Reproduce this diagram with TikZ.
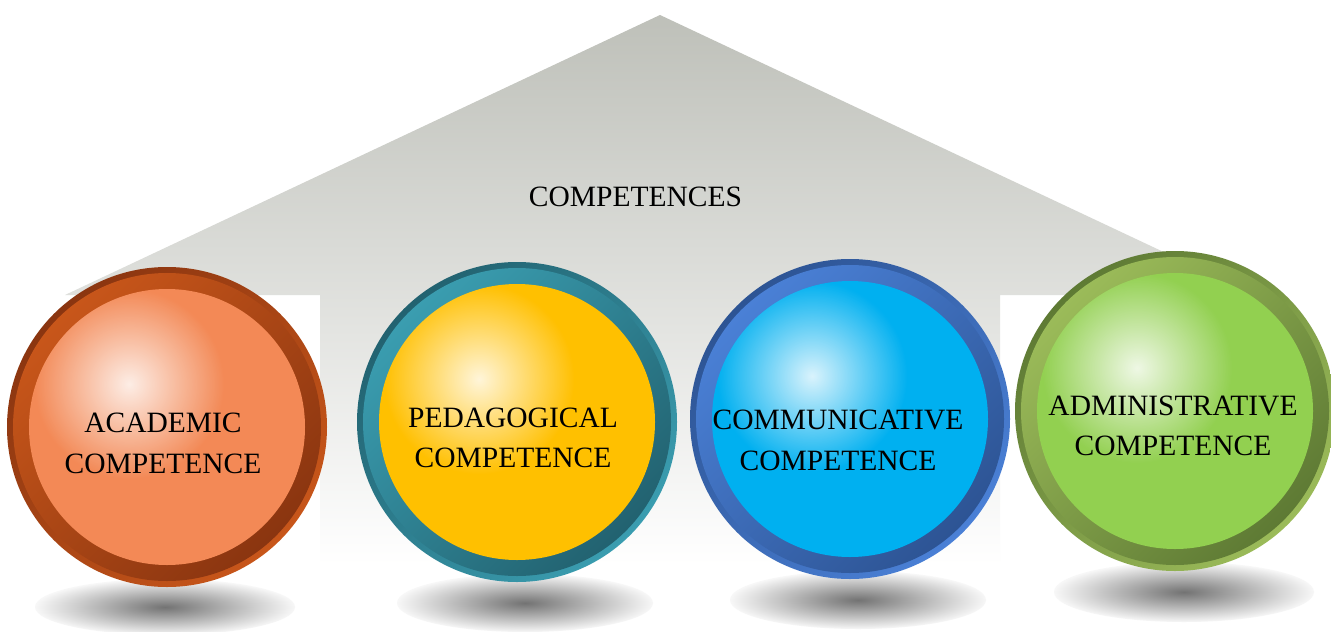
\documentclass[tikz,border=0pt]{standalone}
\usepackage{fontspec}
\setmainfont{Liberation Serif}
\usetikzlibrary{fadings}
\tikzfading[name=glowfade, inner color=transparent!0, outer color=transparent!100]
\definecolor{roofgray}{RGB}{190,192,185}
\definecolor{acDark}{RGB}{138,53,16}
\definecolor{acLight}{RGB}{200,86,26}
\definecolor{acFill}{RGB}{243,137,86}
\definecolor{peDark}{RGB}{34,98,112}
\definecolor{peLight}{RGB}{58,157,176}
\definecolor{peFill}{RGB}{255,192,0}
\definecolor{coDark}{RGB}{45,84,148}
\definecolor{coLight}{RGB}{74,128,214}
\definecolor{coFill}{RGB}{0,176,240}
\definecolor{adDark}{RGB}{94,122,52}
\definecolor{adLight}{RGB}{155,187,89}
\definecolor{adFill}{RGB}{146,208,80}
\tikzset{
  lbl/.style={font=\fontsize{29.5pt}{40.5pt}\selectfont, align=center, inner sep=0pt, text=black},
  shadowblob/.style={inner color=black!55, outer color=black!3},
}
% #1 x, #2 y, #3 dark, #4 light, #5 fill
\newcommand\compball[5]{%
  \shade[top color=#3, bottom color=#4, shading angle=45] (#1,#2) circle (160pt);
  \shade[top color=#4, bottom color=#3, shading angle=45] (#1,#2) circle (154pt);
  \fill[#5] (#1,#2) circle (138pt);
  \begin{scope}
    \clip (#1,#2) circle (138pt);
    \fill[white, path fading=glowfade, fill opacity=.85] ({#1-38},{#2-43}) circle (95pt);
  \end{scope}
}
\begin{document}
\begin{tikzpicture}[x=1pt,y=-1pt]
\useasboundingbox (0,0) rectangle (1331,632);
\fill[white] (0,0) rectangle (1331,632);
% house
\shade[top color=roofgray, bottom color=white]
  (660,15) -- (1255,295) -- (1000,295) -- (1000,565) -- (320,565) -- (320,295) -- (65,295) -- cycle;
% shadows
\shade[shadowblob] (165,607) ellipse (130pt and 28pt);
\shade[shadowblob] (525,603) ellipse (128pt and 29pt);
\shade[shadowblob] (858,600) ellipse (128pt and 29pt);
\shade[shadowblob] (1184,592) ellipse (130pt and 30pt);
% balls
\compball{167}{427}{acDark}{acLight}{acFill}
\compball{517}{422}{peDark}{peLight}{peFill}
\compball{850}{419}{coDark}{coLight}{coFill}
\compball{1175}{411}{adDark}{adLight}{adFill}
% texts
\node[lbl] (title) at (635.5,197.25) {COMPETENCES};
\node[lbl] (acad) at (163,443.25) {ACADEMIC\\COMPETENCE};
\node[lbl] (peda) at (513,437.75) {PEDAGOGICAL\\COMPETENCE};
\node[lbl] (comm) at (838,440.25) {COMMUNICATIVE\\COMPETENCE};
\node[lbl] (admin) at (1173,425.75) {ADMINISTRATIVE\\COMPETENCE};
\end{tikzpicture}
\end{document}
